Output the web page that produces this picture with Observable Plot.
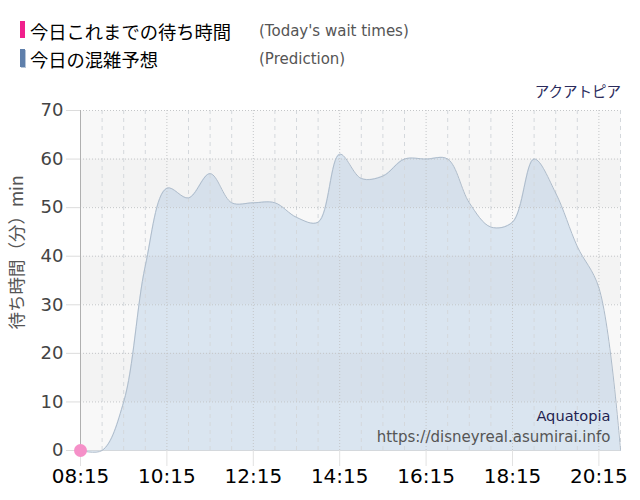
<!DOCTYPE html>
<html>
<head>
<meta charset="utf-8">
<script src="https://cdn.jsdelivr.net/npm/d3@7"></script>
<script src="https://cdn.jsdelivr.net/npm/@observablehq/plot@0.6"></script>
<style>
  body { margin:0; width:640px; height:500px; position:relative; background:#fff; overflow:hidden; }
  .bar { position:absolute; left:20px; width:5px; }
  .jp { position:absolute; left:30px; font-family:"Noto Sans CJK JP", sans-serif; font-size:18.3px; color:#000; line-height:20px; }
  .en { position:absolute; left:259px; font-family:"DejaVu Sans", sans-serif; font-size:15px; color:#555; line-height:20px; }
  #name { position:absolute; right:19px; top:81px; font-family:"Noto Sans CJK JP", sans-serif; font-size:14.5px; color:#2b2b5c; line-height:20px; }
  #chart { position:absolute; left:0; top:80px; }
</style>
</head>
<body>
<div class="bar" style="top:21px;height:17px;background:#f0208c;"></div>
<div class="jp" style="top:21px;">今日これまでの待ち時間</div>
<div class="en" style="top:21px;">(Today's wait times)</div>
<div class="bar" style="top:49px;height:18px;background:#5f7fab;box-shadow:1px 1px 0 #b8c6d8;"></div>
<div class="jp" style="top:49px;">今日の混雑予想</div>
<div class="en" style="top:49px;">(Prediction)</div>
<div id="name">アクアトピア</div>
<div id="chart"></div>
<script>
// ---- data ----
const times = ["08:15","08:45","09:15","09:45","10:15","10:45","11:15","11:45","12:15","12:45","13:15","13:45","14:15","14:45","15:15","15:45","16:15","16:45","17:15","17:45","18:15","18:45","19:15","19:45","20:15","20:45"];
const prediction = [0,0,10,38,54,52,57,51,51,51,48,47,61,56,56.5,60,60,60,51,46,47,60,53,42,33.5,0];
const todayTimes = ["08:15"];
const todayWaits = [0];
const xTickLabels = ["08:15","10:15","12:15","14:15","16:15","18:15","20:15"];
const yTicks = [0,10,20,30,40,50,60,70];
const attractionEn = "Aquatopia";
const siteUrl = "https://disneyreal.asumirai.info";
const yTitle = "待ち時間（分）min";

const parse = d3.utcParse("%H:%M");
const pred = times.map((t, i) => ({t: parse(t), v: prediction[i]}));
const today = todayTimes.map((t, i) => ({t: parse(t), v: todayWaits[i]}));
const xTicks = xTickLabels.map(parse);
const gridTimes = times.map(parse);
const minorGrid = gridTimes.filter(t => !xTicks.some(x => +x === +t));
const darkBands = yTicks.filter((v, i) => i % 2 === 1 && i < yTicks.length - 1);

const chart = Plot.plot({
  width: 640,
  height: 420,
  marginTop: 30,
  marginBottom: 50,
  marginLeft: 80,
  marginRight: 20,
  style: {fontFamily: "'DejaVu Sans', 'Noto Sans CJK JP', sans-serif", background: "transparent"},
  x: {type: "utc", domain: [gridTimes[0], gridTimes[gridTimes.length - 1]]},
  y: {domain: [0, 70]},
  marks: [
    Plot.frame({fill: "#f8f8f8", stroke: null}),
    Plot.areaY(pred, {x: "t", y: "v", curve: "catmull-rom", fill: "#bcd2e8", fillOpacity: 0.5}),
    Plot.rect(darkBands, {y1: d => d, y2: d => d + 10, fill: "#707070", fillOpacity: 0.035}),
    Plot.ruleX(minorGrid, {stroke: "#d4d8dc", strokeDasharray: "4,4"}),
    Plot.ruleX(xTicks.slice(1), {stroke: "#c4c6c8", strokeDasharray: "1,2"}),
    Plot.ruleY(yTicks.slice(1), {stroke: "#c4c6c8", strokeDasharray: "1,2"}),
    Plot.ruleY([0], {stroke: "#d4d8dc"}),
    Plot.lineY(pred, {x: "t", y: "v", curve: "catmull-rom", stroke: "#aebccb", strokeWidth: 1}),
    Plot.ruleX([gridTimes[0]], {stroke: "#b0b0b0"}),
    Plot.axisY({ticks: yTicks, tickSize: 14, tickPadding: 3, stroke: "#dcdcdc", fill: "#444", fontSize: 18, label: null}),
    Plot.axisX({ticks: xTicks, tickFormat: d3.utcFormat("%H:%M"), tickSize: 16, tickPadding: 2, stroke: "#e2e2e2", fill: "#000", fontSize: 20, label: null}),
    Plot.text([yTitle], {frameAnchor: "left", dx: -63.5, dy: -28, rotate: -90, textAnchor: "middle", lineAnchor: "middle", fontSize: 17.5, fill: "#555", fontFamily: "'Noto Sans CJK JP', sans-serif"}),
    Plot.text([attractionEn], {frameAnchor: "bottom-right", dx: -10, dy: -34.5, lineAnchor: "middle", textAnchor: "end", fontSize: 14.6, fill: "#1f1f50"}),
    Plot.text([siteUrl], {frameAnchor: "bottom-right", dx: -10, dy: -13.5, lineAnchor: "middle", textAnchor: "end", fontSize: 15, fill: "#555"}),
    Plot.dot(today, {x: "t", y: "v", r: 6.5, fill: "#f590c8", stroke: null})
  ]
});
document.getElementById("chart").appendChild(chart);
</script>
</body>
</html>
